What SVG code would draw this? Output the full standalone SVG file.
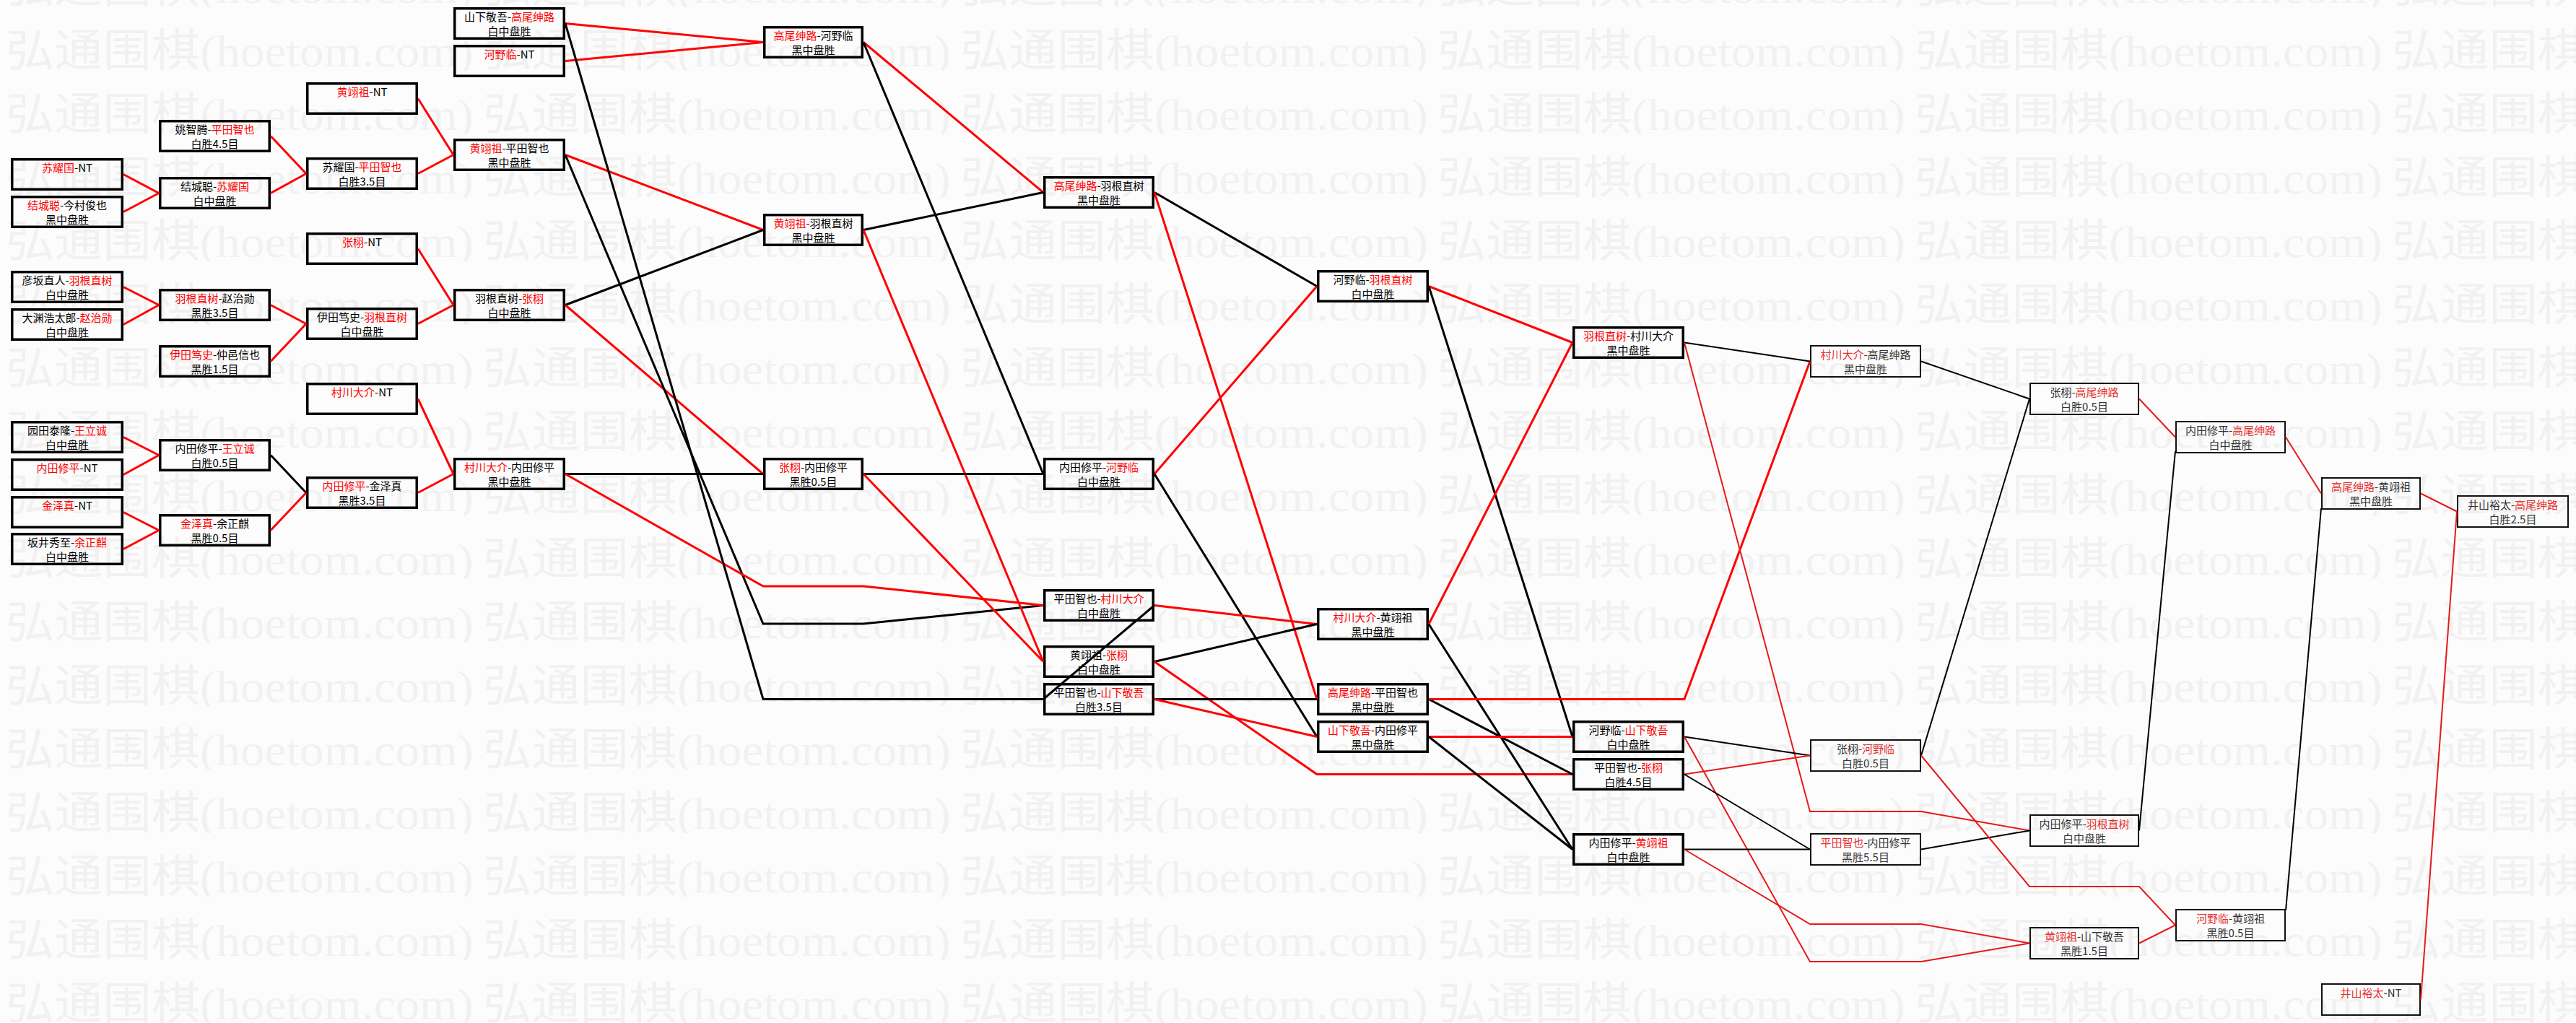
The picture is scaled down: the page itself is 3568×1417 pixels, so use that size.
<svg xmlns="http://www.w3.org/2000/svg" width="3568" height="1417" viewBox="0 0 3568 1417">
<style>
.bg{fill:#fcfcfc}
.b{fill:none;stroke:#000;stroke-width:3.5}
.b2{fill:none;stroke:#111;stroke-width:2}
.t{font-family:"Noto Sans CJK SC","Liberation Sans",sans-serif;font-size:15px;text-anchor:middle;fill:#000}
.t2{font-family:"Noto Sans CJK SC","Liberation Sans",sans-serif;font-size:15px;text-anchor:middle;fill:#333}
.r{fill:#f00}
.r2{fill:#e53030}
.lr{stroke:#f00;stroke-width:3;fill:none}
.lk{stroke:#000;stroke-width:3;fill:none}
.lr2{stroke:#e61a1a;stroke-width:2;fill:none}
.lk2{stroke:#000;stroke-width:2;fill:none}
.wm{font-family:"Noto Sans CJK SC","Liberation Serif",serif;font-size:62px;fill:#f1f1f1}
.wl{font-family:"Liberation Serif","Noto Sans CJK SC",serif}
</style>
<defs>
<pattern id="wmp" patternUnits="userSpaceOnUse" x="0" y="10" width="661" height="88">
<text class="wm" x="8" y="82" textLength="648" lengthAdjust="spacingAndGlyphs">弘通围棋<tspan class="wl">(hoetom.com)</tspan></text>
</pattern>
</defs>
<rect class="bg" x="0" y="0" width="3568" height="1417"/>
<rect x="0" y="0" width="3568" height="1417" fill="url(#wmp)"/>

<g id="nodes">
<!-- Column 1 -->
<g id="n1"><rect class="b" x="16.75" y="220.75" width="152.5" height="41.5"/><text class="t" x="93" y="238"><tspan class="r">苏耀国</tspan>-NT</text></g>
<g id="n2"><rect class="b" x="16.75" y="272.75" width="152.5" height="41.5"/><text class="t" x="93" y="290"><tspan class="r">结城聪</tspan>-今村俊也</text><text class="t" x="93" y="310">黑中盘胜</text></g>
<g id="n3"><rect class="b" x="16.75" y="376.75" width="152.5" height="41.5"/><text class="t" x="93" y="394">彦坂直人-<tspan class="r">羽根直树</tspan></text><text class="t" x="93" y="414">白中盘胜</text></g>
<g id="n4"><rect class="b" x="16.75" y="428.75" width="152.5" height="41.5"/><text class="t" x="93" y="446">大渊浩太郎-<tspan class="r">赵治勋</tspan></text><text class="t" x="93" y="466">白中盘胜</text></g>
<g id="n5"><rect class="b" x="16.75" y="584.75" width="152.5" height="41.5"/><text class="t" x="93" y="602">园田泰隆-<tspan class="r">王立诚</tspan></text><text class="t" x="93" y="622">白中盘胜</text></g>
<g id="n6"><rect class="b" x="16.75" y="636.75" width="152.5" height="41.5"/><text class="t" x="93" y="654"><tspan class="r">内田修平</tspan>-NT</text></g>
<g id="n7"><rect class="b" x="16.75" y="688.75" width="152.5" height="41.5"/><text class="t" x="93" y="706"><tspan class="r">金泽真</tspan>-NT</text></g>
<g id="n8"><rect class="b" x="16.75" y="739.75" width="152.5" height="41.5"/><text class="t" x="93" y="757">坂井秀至-<tspan class="r">余正麒</tspan></text><text class="t" x="93" y="777">白中盘胜</text></g>
<!-- Column 2 -->
<g id="m1"><rect class="b" x="221.75" y="167.75" width="151.5" height="41.5"/><text class="t" x="297.5" y="185">姚智腾-<tspan class="r">平田智也</tspan></text><text class="t" x="297.5" y="205">白胜4.5目</text></g>
<g id="m2"><rect class="b" x="221.75" y="246.75" width="151.5" height="41.5"/><text class="t" x="297.5" y="264">结城聪-<tspan class="r">苏耀国</tspan></text><text class="t" x="297.5" y="284">白中盘胜</text></g>
<g id="m3"><rect class="b" x="221.75" y="401.75" width="151.5" height="41.5"/><text class="t" x="297.5" y="419"><tspan class="r">羽根直树</tspan>-赵治勋</text><text class="t" x="297.5" y="439">黑胜3.5目</text></g>
<g id="m4"><rect class="b" x="221.75" y="479.75" width="151.5" height="41.5"/><text class="t" x="297.5" y="497"><tspan class="r">伊田笃史</tspan>-仲邑信也</text><text class="t" x="297.5" y="517">黑胜1.5目</text></g>
<g id="m5"><rect class="b" x="221.75" y="609.75" width="151.5" height="41.5"/><text class="t" x="297.5" y="627">内田修平-<tspan class="r">王立诚</tspan></text><text class="t" x="297.5" y="647">白胜0.5目</text></g>
<g id="m6"><rect class="b" x="221.75" y="713.75" width="151.5" height="41.5"/><text class="t" x="297.5" y="731"><tspan class="r">金泽真</tspan>-余正麒</text><text class="t" x="297.5" y="751">黑胜0.5目</text></g>
<!-- Column 3 -->
<g id="p1"><rect class="b" x="425.75" y="115.75" width="151.5" height="41.5"/><text class="t" x="501.5" y="133"><tspan class="r">黄翊祖</tspan>-NT</text></g>
<g id="p2"><rect class="b" x="425.75" y="219.75" width="151.5" height="41.5"/><text class="t" x="501.5" y="237">苏耀国-<tspan class="r">平田智也</tspan></text><text class="t" x="501.5" y="257">白胜3.5目</text></g>
<g id="p3"><rect class="b" x="425.75" y="323.75" width="151.5" height="41.5"/><text class="t" x="501.5" y="341"><tspan class="r">张栩</tspan>-NT</text></g>
<g id="p4"><rect class="b" x="425.75" y="427.75" width="151.5" height="41.5"/><text class="t" x="501.5" y="445">伊田笃史-<tspan class="r">羽根直树</tspan></text><text class="t" x="501.5" y="465">白中盘胜</text></g>
<g id="p5"><rect class="b" x="425.75" y="531.75" width="151.5" height="41.5"/><text class="t" x="501.5" y="549"><tspan class="r">村川大介</tspan>-NT</text></g>
<g id="p6"><rect class="b" x="425.75" y="661.75" width="151.5" height="41.5"/><text class="t" x="501.5" y="679"><tspan class="r">内田修平</tspan>-金泽真</text><text class="t" x="501.5" y="699">黑胜3.5目</text></g>
<!-- Column 4 -->
<g id="q1"><rect class="b" x="629.75" y="11.75" width="151.5" height="41.5"/><text class="t" x="705.5" y="29">山下敬吾-<tspan class="r">高尾绅路</tspan></text><text class="t" x="705.5" y="49">白中盘胜</text></g>
<g id="q2"><rect class="b" x="629.75" y="63.75" width="151.5" height="41.5"/><text class="t" x="705.5" y="81"><tspan class="r">河野临</tspan>-NT</text></g>
<g id="q3"><rect class="b" x="629.75" y="193.75" width="151.5" height="41.5"/><text class="t" x="705.5" y="211"><tspan class="r">黄翊祖</tspan>-平田智也</text><text class="t" x="705.5" y="231">黑中盘胜</text></g>
<g id="q4"><rect class="b" x="629.75" y="401.75" width="151.5" height="41.5"/><text class="t" x="705.5" y="419">羽根直树-<tspan class="r">张栩</tspan></text><text class="t" x="705.5" y="439">白中盘胜</text></g>
<g id="q5"><rect class="b" x="629.75" y="635.75" width="151.5" height="41.5"/><text class="t" x="705.5" y="653"><tspan class="r">村川大介</tspan>-内田修平</text><text class="t" x="705.5" y="673">黑中盘胜</text></g>
<!-- Column 5 -->
<g id="r1"><rect class="b" x="1058.75" y="37.75" width="135.5" height="41.5"/><text class="t" x="1126.5" y="55"><tspan class="r">高尾绅路</tspan>-河野临</text><text class="t" x="1126.5" y="75">黑中盘胜</text></g>
<g id="r2"><rect class="b" x="1058.75" y="297.75" width="135.5" height="41.5"/><text class="t" x="1126.5" y="315"><tspan class="r">黄翊祖</tspan>-羽根直树</text><text class="t" x="1126.5" y="335">黑中盘胜</text></g>
<g id="r3"><rect class="b" x="1058.75" y="635.75" width="135.5" height="41.5"/><text class="t" x="1126.5" y="653"><tspan class="r">张栩</tspan>-内田修平</text><text class="t" x="1126.5" y="673">黑胜0.5目</text></g>
<!-- Column 6 -->
<g id="s1"><rect class="b" x="1446.75" y="245.75" width="150.5" height="41.5"/><text class="t" x="1522" y="263"><tspan class="r">高尾绅路</tspan>-羽根直树</text><text class="t" x="1522" y="283">黑中盘胜</text></g>
<g id="s2"><rect class="b" x="1446.75" y="635.75" width="150.5" height="41.5"/><text class="t" x="1522" y="653">内田修平-<tspan class="r">河野临</tspan></text><text class="t" x="1522" y="673">白中盘胜</text></g>
<g id="s3"><rect class="b" x="1446.75" y="817.75" width="150.5" height="41.5"/><text class="t" x="1522" y="835">平田智也-<tspan class="r">村川大介</tspan></text><text class="t" x="1522" y="855">白中盘胜</text></g>
<g id="s4"><rect class="b" x="1446.75" y="895.75" width="150.5" height="41.5"/><text class="t" x="1522" y="913">黄翊祖-<tspan class="r">张栩</tspan></text><text class="t" x="1522" y="933">白中盘胜</text></g>
<g id="s5"><rect class="b" x="1446.75" y="947.75" width="150.5" height="41.5"/><text class="t" x="1522" y="965">平田智也-<tspan class="r">山下敬吾</tspan></text><text class="t" x="1522" y="985">白胜3.5目</text></g>
<!-- Column 7 -->
<g id="t1"><rect class="b" x="1825.75" y="375.75" width="151.5" height="41.5"/><text class="t" x="1901.5" y="393">河野临-<tspan class="r">羽根直树</tspan></text><text class="t" x="1901.5" y="413">白中盘胜</text></g>
<g id="t2"><rect class="b" x="1825.75" y="843.75" width="151.5" height="41.5"/><text class="t" x="1901.5" y="861"><tspan class="r">村川大介</tspan>-黄翊祖</text><text class="t" x="1901.5" y="881">黑中盘胜</text></g>
<g id="t3"><rect class="b" x="1825.75" y="947.75" width="151.5" height="41.5"/><text class="t" x="1901.5" y="965"><tspan class="r">高尾绅路</tspan>-平田智也</text><text class="t" x="1901.5" y="985">黑中盘胜</text></g>
<g id="t4"><rect class="b" x="1825.75" y="999.75" width="151.5" height="41.5"/><text class="t" x="1901.5" y="1017"><tspan class="r">山下敬吾</tspan>-内田修平</text><text class="t" x="1901.5" y="1037">黑中盘胜</text></g>
<!-- Column 8 -->
<g id="u1"><rect class="b" x="2179.75" y="453.75" width="151.5" height="41.5"/><text class="t" x="2255.5" y="471"><tspan class="r">羽根直树</tspan>-村川大介</text><text class="t" x="2255.5" y="491">黑中盘胜</text></g>
<g id="u2"><rect class="b" x="2179.75" y="999.75" width="151.5" height="41.5"/><text class="t" x="2255.5" y="1017">河野临-<tspan class="r">山下敬吾</tspan></text><text class="t" x="2255.5" y="1037">白中盘胜</text></g>
<g id="u3"><rect class="b" x="2179.75" y="1051.75" width="151.5" height="41.5"/><text class="t" x="2255.5" y="1069">平田智也-<tspan class="r">张栩</tspan></text><text class="t" x="2255.5" y="1089">白胜4.5目</text></g>
<g id="u4"><rect class="b" x="2179.75" y="1155.75" width="151.5" height="41.5"/><text class="t" x="2255.5" y="1173">内田修平-<tspan class="r">黄翊祖</tspan></text><text class="t" x="2255.5" y="1193">白中盘胜</text></g>
<!-- Column 9 -->
<g id="v1"><rect class="b2" x="2508" y="479" width="152" height="43"/><text class="t2" x="2584" y="497"><tspan class="r2">村川大介</tspan>-高尾绅路</text><text class="t2" x="2584" y="517">黑中盘胜</text></g>
<g id="v2"><rect class="b2" x="2508" y="1025" width="152" height="43"/><text class="t2" x="2584" y="1043">张栩-<tspan class="r2">河野临</tspan></text><text class="t2" x="2584" y="1063">白胜0.5目</text></g>
<g id="v3"><rect class="b2" x="2508" y="1155" width="152" height="43"/><text class="t2" x="2584" y="1173"><tspan class="r2">平田智也</tspan>-内田修平</text><text class="t2" x="2584" y="1193">黑胜5.5目</text></g>
<!-- Column 10 -->
<g id="w1"><rect class="b2" x="2812" y="531" width="150" height="43"/><text class="t2" x="2887" y="549">张栩-<tspan class="r2">高尾绅路</tspan></text><text class="t2" x="2887" y="569">白胜0.5目</text></g>
<g id="w2"><rect class="b2" x="2812" y="1129" width="150" height="43"/><text class="t2" x="2887" y="1147">内田修平-<tspan class="r2">羽根直树</tspan></text><text class="t2" x="2887" y="1167">白中盘胜</text></g>
<g id="w3"><rect class="b2" x="2812" y="1285" width="150" height="43"/><text class="t2" x="2887" y="1303"><tspan class="r2">黄翊祖</tspan>-山下敬吾</text><text class="t2" x="2887" y="1323">黑胜1.5目</text></g>
<!-- Column 11 -->
<g id="x1"><rect class="b2" x="3014" y="584" width="151" height="43"/><text class="t2" x="3089.5" y="602">内田修平-<tspan class="r2">高尾绅路</tspan></text><text class="t2" x="3089.5" y="622">白中盘胜</text></g>
<g id="x2"><rect class="b2" x="3014" y="1260" width="151" height="43"/><text class="t2" x="3089.5" y="1278"><tspan class="r2">河野临</tspan>-黄翊祖</text><text class="t2" x="3089.5" y="1298">黑胜0.5目</text></g>
<!-- Column 12 -->
<g id="y1"><rect class="b2" x="3216" y="662" width="136" height="43"/><text class="t2" x="3284" y="680"><tspan class="r2">高尾绅路</tspan>-黄翊祖</text><text class="t2" x="3284" y="700">黑中盘胜</text></g>
<g id="y2"><rect class="b2" x="3216" y="1363" width="136" height="43"/><text class="t2" x="3284" y="1381"><tspan class="r2">井山裕太</tspan>-NT</text></g>
<!-- Column 13 -->
<g id="z1"><rect class="b2" x="3404" y="687" width="153" height="43"/><text class="t2" x="3480.5" y="705">井山裕太-<tspan class="r2">高尾绅路</tspan></text><text class="t2" x="3480.5" y="725">白胜2.5目</text></g>
</g>

<g id="connectors">
<polyline class="lr" points="171,241.5 220,267.5"/>
<polyline class="lr" points="171,293.5 220,267.5"/>
<polyline class="lr" points="171,397.5 220,422.5"/>
<polyline class="lr" points="171,449.5 220,422.5"/>
<polyline class="lr" points="171,605.5 220,630.5"/>
<polyline class="lr" points="171,657.5 220,630.5"/>
<polyline class="lr" points="171,709.5 220,734.5"/>
<polyline class="lr" points="171,760.5 220,734.5"/>

<polyline class="lr" points="375,188.5 424,240.5"/>
<polyline class="lr" points="375,267.5 424,240.5"/>
<polyline class="lr" points="375,422.5 424,448.5"/>
<polyline class="lr" points="375,500.5 424,448.5"/>
<polyline class="lk" points="375,630.5 424,682.5"/>
<polyline class="lr" points="375,734.5 424,682.5"/>

<polyline class="lr" points="579,136.5 628,214.5"/>
<polyline class="lr" points="579,240.5 628,214.5"/>
<polyline class="lr" points="579,344.5 628,422.5"/>
<polyline class="lr" points="579,448.5 628,422.5"/>
<polyline class="lr" points="579,552.5 628,656.5"/>
<polyline class="lr" points="579,682.5 628,656.5"/>

<polyline class="lr" points="783,32.5 1057,58.5"/>
<polyline class="lr" points="783,84.5 1057,58.5"/>
<polyline class="lr" points="783,214.5 1057,318.5"/>
<polyline class="lk" points="783,422.5 1057,318.5"/>
<polyline class="lr" points="783,422.5 1057,656.5"/>
<polyline class="lk" points="783,656.5 1057,656.5"/>
<polyline class="lk" points="783,214.5 1057,864 1196,864 1445,838.5"/>
<polyline class="lr" points="783,656.5 1057,812 1196,812 1445,838.5"/>
<polyline class="lk" points="783,32.5 1057,968.5 1445,968.5"/>

<polyline class="lr" points="1196,58.5 1445,266.5"/>
<polyline class="lk" points="1196,58.5 1445,656.5"/>
<polyline class="lk" points="1196,318.5 1445,266.5"/>
<polyline class="lr" points="1196,318.5 1445,916.5"/>
<polyline class="lk" points="1196,656.5 1445,656.5"/>
<polyline class="lr" points="1196,656.5 1445,916.5"/>

<polyline class="lk" points="1599,266.5 1824,396.5"/>
<polyline class="lr" points="1599,266.5 1824,968.5"/>
<polyline class="lr" points="1599,656.5 1824,396.5"/>
<polyline class="lk" points="1599,656.5 1824,1020.5"/>
<polyline class="lr" points="1599,838.5 1824,864.5"/>
<polyline class="lk" points="1599,838.5 1445,968.5"/>
<polyline class="lk" points="1599,916.5 1824,864.5"/>
<polyline class="lr" points="1599,916.5 1824,1072.5 2178,1072.5"/>
<polyline class="lk" points="1599,968.5 1824,968.5"/>
<polyline class="lr" points="1599,968.5 1824,1020.5"/>

<polyline class="lr" points="1979,396.5 2178,474.5"/>
<polyline class="lk" points="1979,396.5 2178,1020.5"/>
<polyline class="lr" points="1979,864.5 2178,474.5"/>
<polyline class="lk" points="1979,864.5 2178,1176.5"/>
<polyline class="lk" points="1979,968.5 2178,1072.5"/>
<polyline class="lr" points="1979,968.5 2333,968.5 2507,500.5"/>
<polyline class="lr" points="1979,1020.5 2178,1020.5"/>
<polyline class="lk" points="1979,1020.5 2178,1176.5"/>

<polyline class="lk2" points="2333,474.5 2507,500.5"/>
<polyline class="lr2" points="2333,474.5 2507,1124 2661,1124 2811,1150.5"/>
<polyline class="lk2" points="2333,1020.5 2507,1046.5"/>
<polyline class="lr2" points="2333,1020.5 2507,1332 2661,1332 2811,1306.5"/>
<polyline class="lr2" points="2333,1072.5 2507,1046.5"/>
<polyline class="lk2" points="2333,1072.5 2507,1176.5"/>
<polyline class="lk2" points="2333,1176.5 2507,1176.5"/>
<polyline class="lr2" points="2333,1176.5 2507,1280 2661,1280 2811,1306.5"/>

<polyline class="lk2" points="2661,500.5 2811,552.5"/>
<polyline class="lk2" points="2661,1046.5 2811,552.5"/>
<polyline class="lk2" points="2661,1176.5 2811,1150.5"/>
<polyline class="lr2" points="2661,1046.5 2811,1228 2963,1228 3013,1281.5"/>

<polyline class="lr2" points="2963,552.5 3013,605.5"/>
<polyline class="lk2" points="2963,1150.5 3013,625"/>
<polyline class="lr2" points="2963,1306.5 3013,1281.5"/>

<polyline class="lr2" points="3166,605.5 3215,683.5"/>
<polyline class="lk2" points="3166,1261 3215,704"/>

<polyline class="lr2" points="3353,683.5 3403,708.5"/>
<polyline class="lr2" points="3353,1384.5 3403,708.5"/>
</g>
</svg>
